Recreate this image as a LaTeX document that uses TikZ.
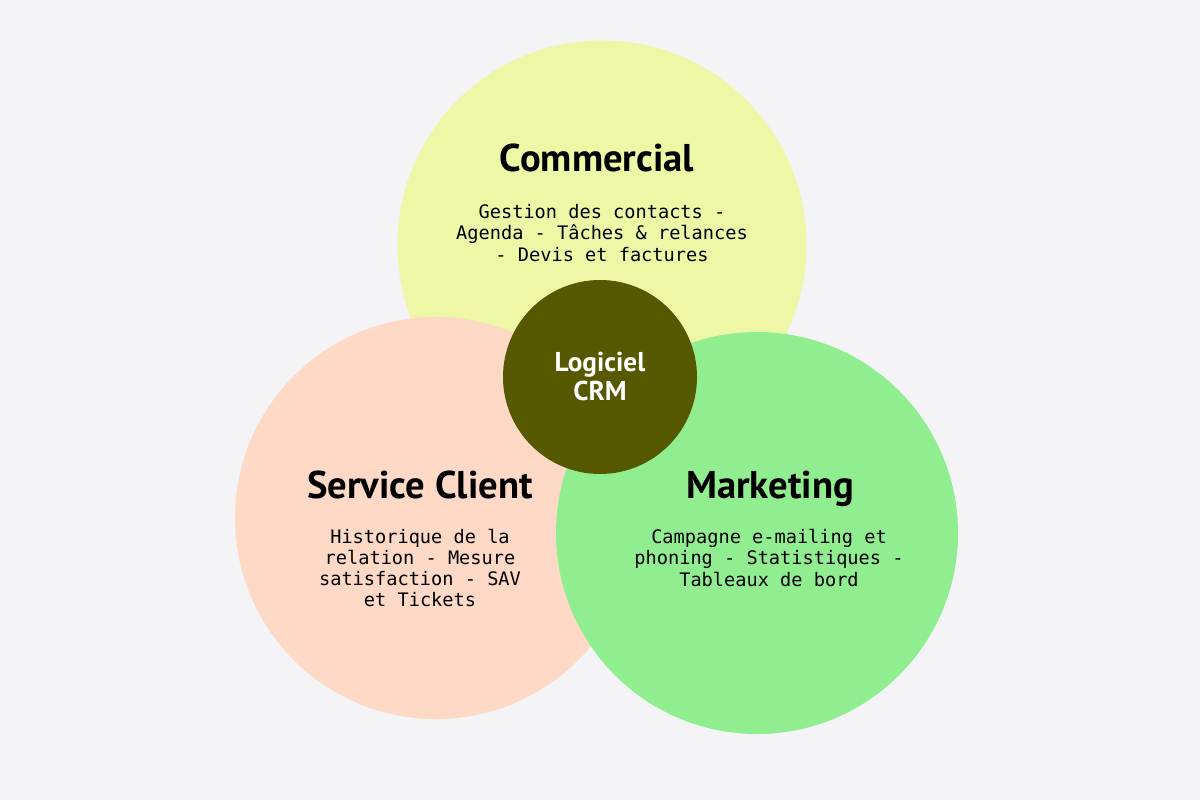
\documentclass[tikz,border=0pt]{standalone}
\usepackage{fontspec}
\setmainfont{PT Sans}
\setmonofont{DejaVu Sans Mono}
\usepackage{xcolor}

\definecolor{bgpaper}{HTML}{F4F3F6}
\definecolor{comyellow}{HTML}{EEF7A6}
\definecolor{clientpeach}{HTML}{FDD9C6}
\definecolor{mktgreen}{HTML}{90EE90}
\definecolor{crmolive}{HTML}{565900}

\begin{document}
\begin{tikzpicture}[
  x=0.02cm, y=-0.02cm,
  bubble/.style={circle, inner sep=0pt, draw=none},
  heading/.style={anchor=base, font=\fontsize{22}{26}\selectfont\bfseries, text=black},
  detail/.style={font=\fontsize{10.6}{12}\selectfont\ttfamily, align=center, text=black},
]
  % background
  \fill[bgpaper] (0,0) rectangle (1200,800);
  \useasboundingbox (0,0) rectangle (1200,800);

  % the three areas
  \node[bubble, fill=comyellow, minimum size=409*0.02cm] (com) at (602,245) {};
  \node[bubble, fill=clientpeach, minimum size=402*0.02cm] (client) at (436,518) {};
  \node[bubble, fill=mktgreen, minimum size=402*0.02cm] (mkt) at (757,533) {};

  % core
  \node[bubble, fill=crmolive, minimum size=194*0.02cm, text=white, align=center,
        font=\fontsize{15.5}{16.5}\selectfont\bfseries] (crm) at (600,377) {Logiciel\\CRM};

  % titles
  \node[heading] (comtitle) at (597,172) {Commercial};
  \node[heading] (clienttitle) at (420,498) {Service Client};
  \node[heading] (mkttitle) at (770,498) {Marketing};

  % contents
  \node[detail] (comtext) at (602,233) {Gestion des contacts -\\Agenda - Tâches \& relances\\- Devis et factures};
  \node[detail] (clienttext) at (420,568) {Historique de la\\relation - Mesure\\satisfaction - SAV\\et Tickets};
  \node[detail] (mkttext) at (769,558) {Campagne e-mailing et\\phoning - Statistiques -\\Tableaux de bord};
\end{tikzpicture}
\end{document}
